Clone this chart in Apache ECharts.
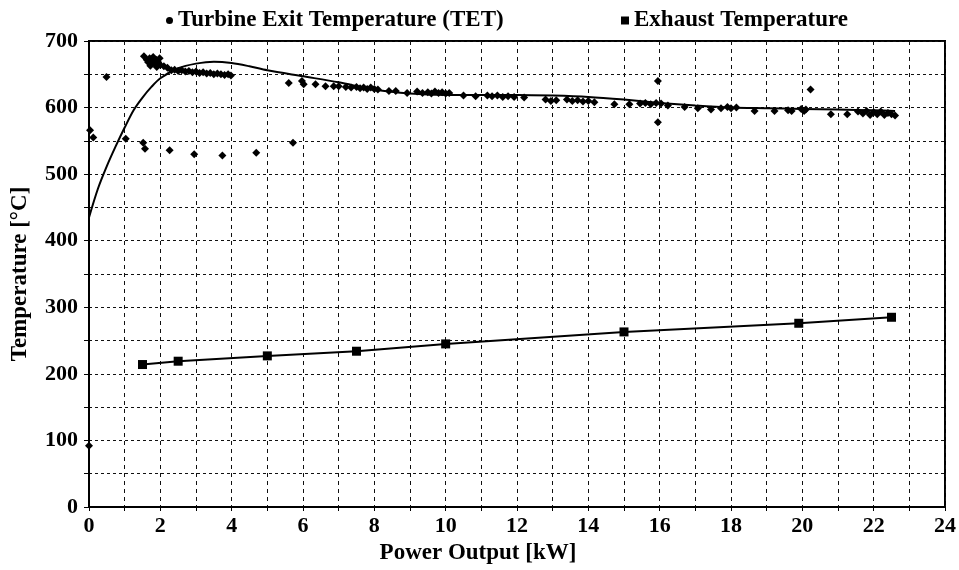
<!DOCTYPE html>
<html><head><meta charset="utf-8">
<script src="https://cdn.jsdelivr.net/npm/echarts@6/dist/echarts.min.js"></script>
<style>html,body{margin:0;padding:0;background:#fff}#c{width:959px;height:570px}</style>
</head><body><div id="c"></div>
<script>
// TET scatter points (kW, °C)
var tetX = [0.0,0.03,0.12,0.49,1.03,1.52,1.57,2.26,2.95,3.74,4.69,5.72,
 1.54,1.62,1.66,1.7,1.72,1.76,1.8,1.84,1.88,1.9,1.94,1.98,2.0,2.1,2.2,
 2.31,2.4,2.5,2.6,2.7,2.8,2.9,3.0,3.1,3.2,3.3,3.4,3.5,3.6,3.7,3.8,3.9,3.98,
 5.6,5.97,6.02,6.35,6.63,6.86,7.0,
 7.2,7.35,7.5,7.6,7.7,7.8,7.9,8.0,8.1,
 8.41,8.6,8.92,
 9.2,9.35,9.5,9.6,9.7,9.8,9.9,10.0,10.1,
 10.5,10.84,
 11.17,11.3,11.45,11.6,11.75,11.92,
 12.2,12.8,12.95,13.1,
 13.4,13.55,13.7,13.85,14.0,14.17,
 14.73,15.15,
 15.45,15.6,15.75,15.9,16.04,
 15.95,15.95,
 16.23,16.7,17.07,17.44,17.72,17.9,18.0,18.15,
 18.66,19.22,19.6,19.7,19.97,20.05,20.1,
 20.23,20.8,21.26,
 21.56,21.7,21.8,21.9,22.0,22.1,22.2,22.3,22.4,22.5,22.6];
var tetY = [92,566,555,646,553,547,538,536,530,528,532,547,
 677,672,668,674,663,670,676,666,672,661,668,674,664,662,660,
 656,657,655,656,654,655,653,654,652,653,651,652,650,651,650,649,650,648,
 637,640,635,635,632,632,632,
 631,630,631,629,630,628,630,628,627,
 625,625,622,
 624,622,623,621,624,622,623,621,622,
 618,617,
 618,617,618,616,617,616,
 615,612,610,611,
 612,610,611,609,610,608,
 605,605,
 606,607,605,607,606,
 640,578,
 603,601,599,597,599,601,599,600,
 595,595,596,595,598,595,597,
 627,590,590,
 594,591,595,589,593,590,594,589,592,590,588];
// TET fitted curve
var fitX = [0,0.25,0.5,0.75,1.0,1.25,1.5,1.75,2.0,2.5,3.0,3.5,4.0,4.5,5,6,7,8,9,10,11,12,13,14,15,16,17,18,19,20,21,22,22.6];
var fitY = [435,478,512,542,570,596,615,631,644,659,666,669,667,662,656,647,638,627,621,619,619,619,618,616,612,607,603,600,599,598,597,596,595];
// Exhaust temperature
var exX = [1.5,2.5,5,7.5,10,15,19.9,22.5];
var exY = [214,219,227,234,245,263,276,285];

function zip(a,b){return a.map(function(v,i){return [v,b[i]];});}
var F = '"Liberation Serif", "DejaVu Serif", serif';
var chart = echarts.init(document.getElementById('c'));
chart.setOption({
  animation:false,
  grid:{left:89,right:13,top:41,bottom:63,show:true,borderColor:'#000',borderWidth:2,backgroundColor:'transparent'},
  legend:[
    {left:161,top:4,icon:'circle',itemWidth:7,itemHeight:7,itemGap:6,data:['Turbine Exit Temperature (TET)'],
     textStyle:{fontFamily:F,fontWeight:'bold',fontSize:23,color:'#000'}},
    {left:616,top:4,icon:'rect',itemWidth:8,itemHeight:8,data:['Exhaust Temperature'],
     textStyle:{fontFamily:F,fontWeight:'bold',fontSize:23,color:'#000'}}
  ],
  xAxis:{type:'value',min:0,max:24,interval:1,
    name:'Power Output [kW]',nameLocation:'middle',nameGap:33,
    nameTextStyle:{fontFamily:F,fontWeight:'bold',fontSize:23,color:'#000',padding:[0,78,0,0]},
    axisLine:{lineStyle:{color:'#000',width:2}},
    axisTick:{show:true,length:4,lineStyle:{color:'#000'}},
    axisLabel:{fontFamily:F,fontWeight:'bold',fontSize:22,color:'#000',margin:8,
      formatter:function(v){return v%2===0?String(v):'';}},
    splitLine:{show:true,lineStyle:{color:'#111',width:1,type:[4,4]}}
  },
  yAxis:{type:'value',min:0,max:700,interval:50,
    name:'Temperature [°C]',nameLocation:'middle',nameGap:57,
    nameTextStyle:{fontFamily:F,fontWeight:'bold',fontSize:23,color:'#000'},
    axisLine:{show:true,lineStyle:{color:'#000',width:2}},
    axisTick:{show:true,length:5,lineStyle:{color:'#000'}},
    axisLabel:{fontFamily:F,fontWeight:'bold',fontSize:22,color:'#000',margin:11,
      formatter:function(v){return v%100===0?String(v):'';}},
    splitLine:{show:true,lineStyle:{color:'#111',width:1,type:[3,3]}}
  },
  series:[
    {name:'Turbine Exit Temperature (TET)',type:'scatter',symbol:'diamond',symbolSize:8,
     itemStyle:{color:'#000',opacity:1},data:zip(tetX,tetY),z:3},
    {name:'TET fit',type:'line',smooth:0.3,showSymbol:false,symbol:'none',
     lineStyle:{color:'#000',width:2},data:zip(fitX,fitY),z:2},
    {name:'Exhaust Temperature',type:'line',symbol:'rect',symbolSize:9,showSymbol:true,
     itemStyle:{color:'#000',opacity:1},lineStyle:{color:'#000',width:2},data:zip(exX,exY),z:3}
  ]
});
</script></body></html>
